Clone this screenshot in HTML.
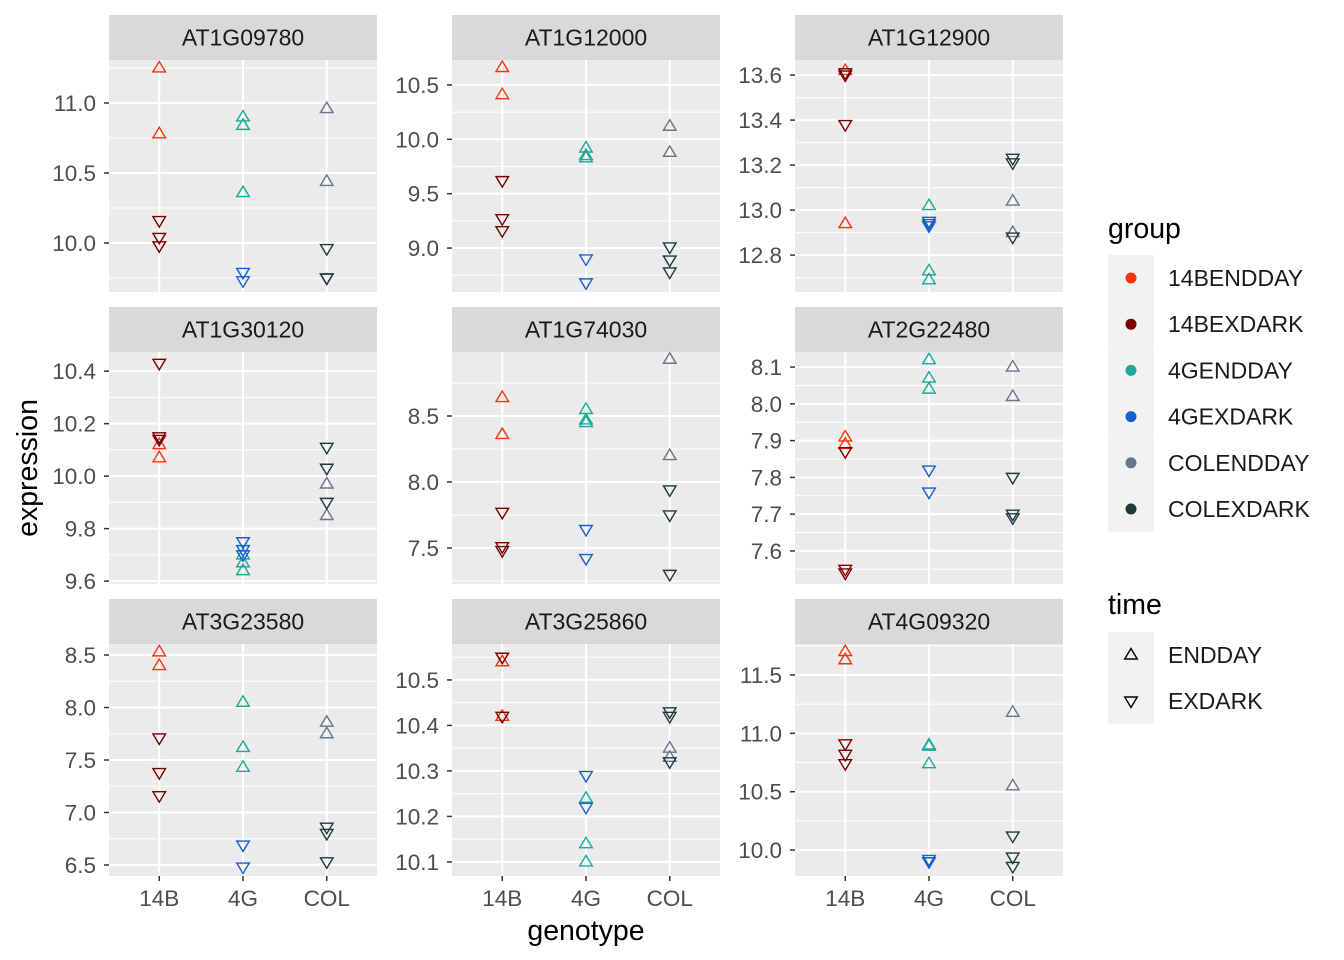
<!DOCTYPE html>
<html><head><meta charset="utf-8">
<style>
body{margin:0;background:#fff;}
svg{display:block;font-family:"Liberation Sans",Arial,sans-serif;}
</style></head>
<body>
<svg id="chart" width="1344" height="960" viewBox="0 0 1344 960"></svg>
<script>
const genes = ["AT1G09780","AT1G12000","AT1G12900","AT1G30120","AT1G74030","AT2G22480","AT3G23580","AT3G25860","AT4G09320"];
const genotypes = ["14B","4G","COL"];
const groupNames = ["14BENDDAY","14BEXDARK","4GENDDAY","4GEXDARK","COLENDDAY","COLEXDARK"];
const timeNames = ["ENDDAY","EXDARK"];
const yDomains = [[9.650,11.307],[8.596,10.729],[12.636,13.667],[9.589,10.473],[7.227,8.985],[7.510,8.141],[6.395,8.605],[10.069,10.579],[9.778,11.765]];
const yTicks = [[10.0,10.5,11.0],[9.0,9.5,10.0,10.5],[12.8,13.0,13.2,13.4,13.6],[9.6,9.8,10.0,10.2,10.4],[7.5,8.0,8.5],[7.6,7.7,7.8,7.9,8.0,8.1],[6.5,7.0,7.5,8.0,8.5],[10.1,10.2,10.3,10.4,10.5],[10.0,10.5,11.0,11.5]];
const yTickLabels = [["10.0","10.5","11.0"],["9.0","9.5","10.0","10.5"],["12.8","13.0","13.2","13.4","13.6"],["9.6","9.8","10.0","10.2","10.4"],["7.5","8.0","8.5"],["7.6","7.7","7.8","7.9","8.0","8.1"],["6.5","7.0","7.5","8.0","8.5"],["10.1","10.2","10.3","10.4","10.5"],["10.0","10.5","11.0","11.5"]];
const endday14B = [[11.25,10.78],[10.66,10.41],[13.62,12.94],[10.12,10.07],[8.64,8.36],[7.91,7.89],[8.53,8.40],[10.54,10.42],[11.70,11.63]];
const exdark14B = [[10.16,10.04,9.98],[9.62,9.27,9.16],[13.61,13.60,13.38],[10.43,10.15,10.14],[7.77,7.51,7.48],[7.87,7.55,7.54],[7.71,7.38,7.16],[10.55,10.55,10.42],[10.91,10.82,10.74]];
const endday4G = [[10.90,10.84,10.36],[9.92,9.85,9.83],[13.02,12.73,12.69],[9.70,9.67,9.64],[8.55,8.47,8.45],[8.12,8.07,8.04],[8.05,7.62,7.43],[10.24,10.14,10.10],[10.90,10.89,10.74]];
const exdark4G = [[9.79,9.73],[8.90,8.68],[12.95,12.94,12.93],[9.75,9.72,9.70],[7.64,7.42],[7.82,7.76],[6.69,6.48],[10.29,10.22],[9.92,9.90]];
const enddayCOL = [[10.96,10.44],[10.12,9.88],[13.04,12.90],[9.97,9.85],[8.93,8.20],[8.10,8.02],[7.86,7.75],[10.35,10.33],[11.18,10.55]];
const exdarkCOL = [[9.96,9.75,9.75],[9.01,8.89,8.78],[13.23,13.21,12.88],[10.11,10.03,9.90],[7.94,7.75,7.30],[7.80,7.70,7.69],[6.86,6.80,6.53],[10.43,10.42,10.32],[10.12,9.94,9.86]];

const colors = ["#F8350E","#7A0000","#1DAA9A","#1560D0","#687789","#1E3B3B"];
const seriesVals = [endday14B,exdark14B,endday4G,exdark4G,enddayCOL,exdarkCOL];
const seriesGeno = [0,0,1,1,2,2];
const seriesTime = [0,1,0,1,0,1];

const NS="http://www.w3.org/2000/svg";
const svg=document.getElementById('chart');
function mk(tag,attrs,parent){const e=document.createElementNS(NS,tag);for(const k in attrs)e.setAttribute(k,attrs[k]);(parent||svg).appendChild(e);return e;}
const colX=[109,452,795], rowY=[60,352,644], PW=268, PH=232, stripH=45;
function triPath(cx,cy,down){
  const h=5.5,w=6.3;
  if(!down) return `M${cx},${cy-h-1} L${cx+w},${cy+h-1.5} L${cx-w},${cy+h-1.5} Z`;
  return `M${cx},${cy+h+1} L${cx+w},${cy-h+1.5} L${cx-w},${cy-h+1.5} Z`;
}
genes.forEach((g,i)=>{
  const px=colX[i%3], py=rowY[Math.floor(i/3)];
  const [lo,hi]=yDomains[i];
  const ys=v=>py+PH-(v-lo)/(hi-lo)*PH;
  const xs=k=>px+(k+0.6)*PW/3.2;
  const grp=mk('g',{});
  
  
  const strip=mk('rect',{x:px,y:py-stripH,width:PW,height:stripH,fill:'#D9D9D9'},grp);
  
  
  const st=mk('text',{x:px+PW/2,y:py-stripH/2+8,'text-anchor':'middle','font-size':'23',fill:'#1A1A1A'},grp);
  st.textContent=g;
  
  
  const bg=mk('rect',{x:px,y:py,width:PW,height:PH,fill:'#EBEBEB'},grp);
  
  
  const t=yTicks[i], step=t[1]-t[0];
  for(let m=t[0]-step/2;m<=hi;m+=step){ if(m>=lo){ mk('line',{x1:px,x2:px+PW,y1:ys(m),y2:ys(m),stroke:'#fff','stroke-width':1},grp);} }
  t.forEach((v,j)=>{
    mk('line',{x1:px,x2:px+PW,y1:ys(v),y2:ys(v),stroke:'#fff','stroke-width':2},grp);
    mk('line',{x1:px-5,x2:px,y1:ys(v),y2:ys(v),stroke:'#333','stroke-width':1.5},grp);
    const tl=mk('text',{x:px-13,y:ys(v)+8,'text-anchor':'end','font-size':'22.5',fill:'#4D4D4D'},grp);
    tl.textContent=yTickLabels[i][j];
    
    
  });
  genotypes.forEach((gt,k)=>{
    mk('line',{x1:xs(k),x2:xs(k),y1:py,y2:py+PH,stroke:'#fff','stroke-width':2},grp);
    if(Math.floor(i/3)===2){
      mk('line',{x1:xs(k),x2:xs(k),y1:py+PH,y2:py+PH+5,stroke:'#333','stroke-width':1.5},grp);
      const xl=mk('text',{x:xs(k),y:py+PH+30,'text-anchor':'middle','font-size':'22.5',fill:'#4D4D4D'},grp);
      xl.textContent=gt;
      
      
    }
  });
  seriesVals.forEach((sv,s)=>{
    sv[i].forEach(v=>{
      const p=mk('path',{d:triPath(xs(seriesGeno[s]),ys(v),seriesTime[s]===1),fill:'none',stroke:colors[s],'stroke-width':1.4},grp);
      
      
    });
  });
});
let at=mk('text',{x:586,y:940,'text-anchor':'middle','font-size':'28.5',fill:'#000'});
at.textContent='genotype';


at=mk('text',{x:0,y:0,'text-anchor':'middle','font-size':'28.5',fill:'#000',transform:'translate(37,468) rotate(-90)'});
at.textContent='expression';


let lt=mk('text',{x:1108,y:238,'font-size':'28.5',fill:'#000'});
lt.textContent='group';


groupNames.forEach((n,j)=>{
  const y0=255+j*46.2;
  const e=mk('g',{});
  
  
  mk('rect',{x:1108,y:y0,width:46,height:46,fill:'#F2F2F2'},e);
  mk('circle',{cx:1131,cy:y0+23,r:5.5,fill:colors[j]},e);
  const tx=mk('text',{x:1168,y:y0+31,'font-size':'23',fill:'#1A1A1A'},e);
  tx.textContent=n;
});
lt=mk('text',{x:1108,y:614,'font-size':'28.5',fill:'#000'});
lt.textContent='time';


timeNames.forEach((n,j)=>{
  const y0=632+j*46;
  const e=mk('g',{});
  
  
  mk('rect',{x:1108,y:y0,width:46,height:46,fill:'#F2F2F2'},e);
  mk('path',{d:triPath(1131,y0+23,j===1),fill:'none',stroke:'#000','stroke-width':1.4},e);
  const tx=mk('text',{x:1168,y:y0+31,'font-size':'23',fill:'#1A1A1A'},e);
  tx.textContent=n;
});
</script>
</body></html>
